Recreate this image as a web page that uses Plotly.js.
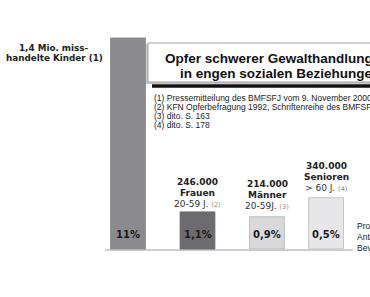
<!DOCTYPE html>
<html><head><meta charset="utf-8">
<script src="https://cdn.plot.ly/plotly-3.0.1.min.js"></script>
<style>html,body{margin:0;padding:0;background:#fff;overflow:hidden}</style>
</head><body><div id="chart" style="width:370px;height:297px"></div>
<script>
// ---- data ----
const categories = ['Kinder', 'Frauen', 'Männer', 'Senioren'];
const victims = [1400000, 246000, 214000, 340000];
const percentLabels = ['11%', '1,1%', '0,9%', '0,5%'];
const countLabels = ['1,4 Mio.', '246.000', '214.000', '340.000'];
const groupLabels = ['miss-handelte Kinder', 'Frauen', 'Männer', 'Senioren'];
const ageLabels = ['', '20-59 J.', '20-59J.', '> 60 J.'];
const sourceRefs = ['(1)', '(2)', '(3)', '(4)'];
const titleLines = ['Opfer schwerer Gewalthandlungen', 'in engen sozialen Beziehungen'];
const footnotes = [
  '(1) Pressemitteilung des BMFSFJ vom 9. November 2000',
  '(2) KFN Opferbefragung 1992, Schriftenreihe des BMFSFJ',
  '(3) dito. S. 163',
  '(4) dito. S. 178'
];
const sideNote = ['Prozentualer', 'Anteil an der', 'Bevölkerung'];

// ---- layout / style ----
const W = 370, H = 297;
const xPos = [0, 1, 2, 2.85];
const pxPerUnitX = 69.5, x0px = 128;
const basePx = 249, topPx = 38;
const yScale = (basePx - topPx) / victims[0];
const barColors = ['#8b8b8f', '#6c6c70', '#d9d9db', '#e7e7e9'];
const barLines = ['#8b8b8f', '#6c6c70', '#bdbdbd', '#c4c4c6'];
const px = v => v / W;
const py = v => 1 - v / H;
const BOLD = 'DejaVu Sans';
const ARIAL = 'Liberation Sans';

const ann = [];
function txt(x, y, text, opts) {
  ann.push(Object.assign({xref: 'paper', yref: 'paper', x: px(x), y: py(y), text: text,
    showarrow: false, xanchor: 'center', yanchor: 'middle',
    font: {family: BOLD, size: 9, color: '#222'}}, opts || {}));
}

// left label for children bar
txt(54, 48, '<b>' + countLabels[0] + ' miss-</b>', {font: {family: BOLD, size: 8.8, color: '#222'}});
txt(54, 58, '<b>handelte Kinder ' + sourceRefs[0] + '</b>', {font: {family: BOLD, size: 8.8, color: '#222'}});

// title
txt(163, 59, '<b>' + titleLines[0] + '</b>', {xanchor: 'left', font: {family: ARIAL, size: 13.5, color: '#111'}});
txt(178, 73.5, '<b>' + titleLines[1] + '</b>', {xanchor: 'left', font: {family: ARIAL, size: 13.5, color: '#111'}});

// footnotes
footnotes.forEach((f, i) => txt(152, 98 + i * 9, f, {xanchor: 'left', font: {family: ARIAL, size: 8.5, color: '#222'}}));

// side note
sideNote.forEach((s, i) => txt(355, 226 + i * 11, s, {xanchor: 'left', font: {family: ARIAL, size: 8.5, color: '#222'}}));

// labels above bars 2..4
const labelTopPx = [null, 182, 184, 166];
for (let i = 1; i < categories.length; i++) {
  const cx = x0px + xPos[i] * pxPerUnitX;
  const t = labelTopPx[i];
  txt(cx, t, '<b>' + countLabels[i] + '</b>');
  txt(cx, t + 11, '<b>' + groupLabels[i] + '</b>');
  txt(cx, t + 21.5, ageLabels[i] + ' <span style="font-size:6.5px;color:#888">' + sourceRefs[i] + '</span>',
      {font: {family: BOLD, size: 9, color: '#333'}});
}

// percent labels inside bars
for (let i = 0; i < categories.length; i++) {
  const cx = x0px + xPos[i] * pxPerUnitX;
  txt(cx, 234, '<b>' + percentLabels[i] + '</b>', {font: {family: BOLD, size: 10, color: '#1a1a1a'}});
}

const shapes = [
  // title box shadow
  {type: 'rect', xref: 'paper', yref: 'paper', x0: px(146), x1: px(372), y0: py(84), y1: py(44),
   fillcolor: '#c8c8c8', line: {width: 0}, layer: 'below'},
  // title box
  {type: 'rect', xref: 'paper', yref: 'paper', x0: px(148), x1: px(372), y0: py(82), y1: py(43),
   fillcolor: '#ffffff', line: {color: '#a0a0a0', width: 1}, layer: 'below'},
  // thick rule under title
  {type: 'line', xref: 'paper', yref: 'paper', x0: px(152), x1: px(372), y0: py(86), y1: py(86),
   line: {color: '#111', width: 3.5}},
  // baseline
  {type: 'line', xref: 'paper', yref: 'paper', x0: px(105), x1: px(353), y0: py(250), y1: py(250),
   line: {color: '#cfcfcf', width: 2}, layer: 'below'}
];

const trace = {
  type: 'bar', x: xPos, y: victims, width: 0.5, text: categories, textposition: 'none',
  hoverinfo: 'skip',
  marker: {color: barColors, line: {color: barLines, width: 1}}
};

const layout = {
  width: W, height: H, margin: {l: 0, r: 0, t: 0, b: 0},
  paper_bgcolor: '#ffffff', plot_bgcolor: 'rgba(0,0,0,0)', showlegend: false,
  xaxis: {visible: false, range: [-x0px / pxPerUnitX, (W - x0px) / pxPerUnitX], fixedrange: true},
  yaxis: {visible: false, range: [-(H - basePx) / yScale, basePx / yScale], fixedrange: true},
  annotations: ann, shapes: shapes
};

Plotly.newPlot('chart', [trace], layout, {staticPlot: true, displayModeBar: false});
</script></body></html>
